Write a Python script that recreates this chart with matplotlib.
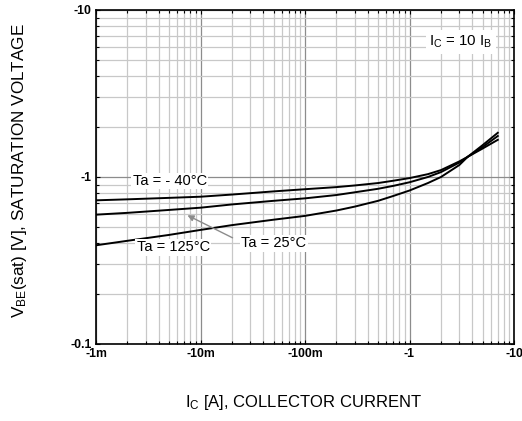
import matplotlib
matplotlib.use("Agg")
import matplotlib.pyplot as plt
from matplotlib.ticker import FixedLocator, LogLocator, NullFormatter, FixedFormatter

plt.rcParams['font.family'] = ['Liberation Sans', 'DejaVu Sans']
plt.rcParams['mathtext.default'] = 'regular'

# Data (magnitudes; labels show negative signs as in the datasheet)
ic = [0.001, 0.002, 0.005, 0.01, 0.02, 0.05, 0.1, 0.2, 0.3, 0.5, 0.7, 1.0, 1.5, 2.0, 3.0, 3.6, 5.0, 7.0]
vbe_m40 = [0.725, 0.735, 0.75, 0.762, 0.785, 0.82, 0.845, 0.87, 0.89, 0.92, 0.95, 0.985, 1.04, 1.10, 1.24, 1.32, 1.48, 1.67]
vbe_25 = [0.595, 0.61, 0.635, 0.655, 0.685, 0.72, 0.745, 0.78, 0.81, 0.85, 0.885, 0.93, 1.00, 1.07, 1.22, 1.32, 1.51, 1.76]
vbe_125 = [0.39, 0.415, 0.45, 0.482, 0.515, 0.555, 0.585, 0.63, 0.665, 0.72, 0.77, 0.83, 0.92, 1.00, 1.18, 1.32, 1.55, 1.84]

x_ticks = [0.001, 0.01, 0.1, 1, 10]
x_labels = ['-1m', '-10m', '-100m', '-1', '-10']
y_ticks = [0.1, 1, 10]
y_labels = ['-0.1', '-1', '-10']

fig = plt.figure(figsize=(5.22, 4.21), dpi=100)
ax = fig.add_axes([96/522, 1-344/421, (514-96)/522, (344-10)/421])
ax.set_xscale('log')
ax.set_yscale('log')
ax.set_xlim(0.001, 10)
ax.set_ylim(0.1, 10)

ax.xaxis.set_major_locator(FixedLocator(x_ticks))
ax.xaxis.set_major_formatter(FixedFormatter(x_labels))
ax.yaxis.set_major_locator(FixedLocator(y_ticks))
ax.yaxis.set_major_formatter(FixedFormatter(y_labels))
ax.xaxis.set_minor_locator(LogLocator(base=10, subs=range(2, 10)))
ax.yaxis.set_minor_locator(LogLocator(base=10, subs=range(2, 10)))
ax.xaxis.set_minor_formatter(NullFormatter())
ax.yaxis.set_minor_formatter(NullFormatter())

ax.grid(True, which='minor', color='#c8c8c8', linewidth=0.9)
ax.grid(True, which='major', color='#8c8c8c', linewidth=0.9)
ax.set_axisbelow(True)

ax.tick_params(which='both', direction='in', top=True, right=True, color='black')
ax.tick_params(which='major', length=3, width=0.8, labelsize=8.8, pad=3)
ax.tick_params(which='minor', length=2, width=0.8)
for lab in ax.get_xticklabels() + ax.get_yticklabels():
    lab.set_fontweight('bold')
for s in ax.spines.values():
    s.set_linewidth(1.2)
    s.set_color('black')

for v in (vbe_m40, vbe_25, vbe_125):
    ax.plot(ic, v, color='black', linewidth=1.4, zorder=3)

box = dict(boxstyle='square,pad=0.1', facecolor='white', edgecolor='none')
ax.text(0.0051, 0.946, 'Ta = - 40°C', fontsize=10.5, ha='center', va='center', bbox=box, zorder=4)
ax.text(0.0055, 0.38, 'Ta = 125°C', fontsize=10.5, ha='center', va='center', bbox=box, zorder=4)
ax.text(0.0504, 0.402, 'Ta = 25°C', fontsize=10.5, ha='center', va='center', bbox=box, zorder=4)
ax.annotate('', xy=(0.0071, 0.60), xytext=(0.0214, 0.425),
            arrowprops=dict(arrowstyle='-|>', color='#8c8c8c', lw=1.0, mutation_scale=9), zorder=4)
ax.text(0.873, 0.904, r'I$_{C}$ = 10 I$_{B}$', transform=ax.transAxes, fontsize=10.8,
        ha='center', va='center', bbox=dict(boxstyle='square,pad=0.25', facecolor='white', edgecolor='none'), zorder=4)

fig.text(20/522, 1-171/421, r'V$_{BE}$(sat) [V], SATURATION VOLTAGE', rotation=90,
         fontsize=12.3, ha='center', va='center')
fig.text(303/522, 1-403/421, r'I$_{C}$ [A], COLLECTOR CURRENT', fontsize=12, ha='center', va='center')

fig.savefig('out.png', dpi=100)
